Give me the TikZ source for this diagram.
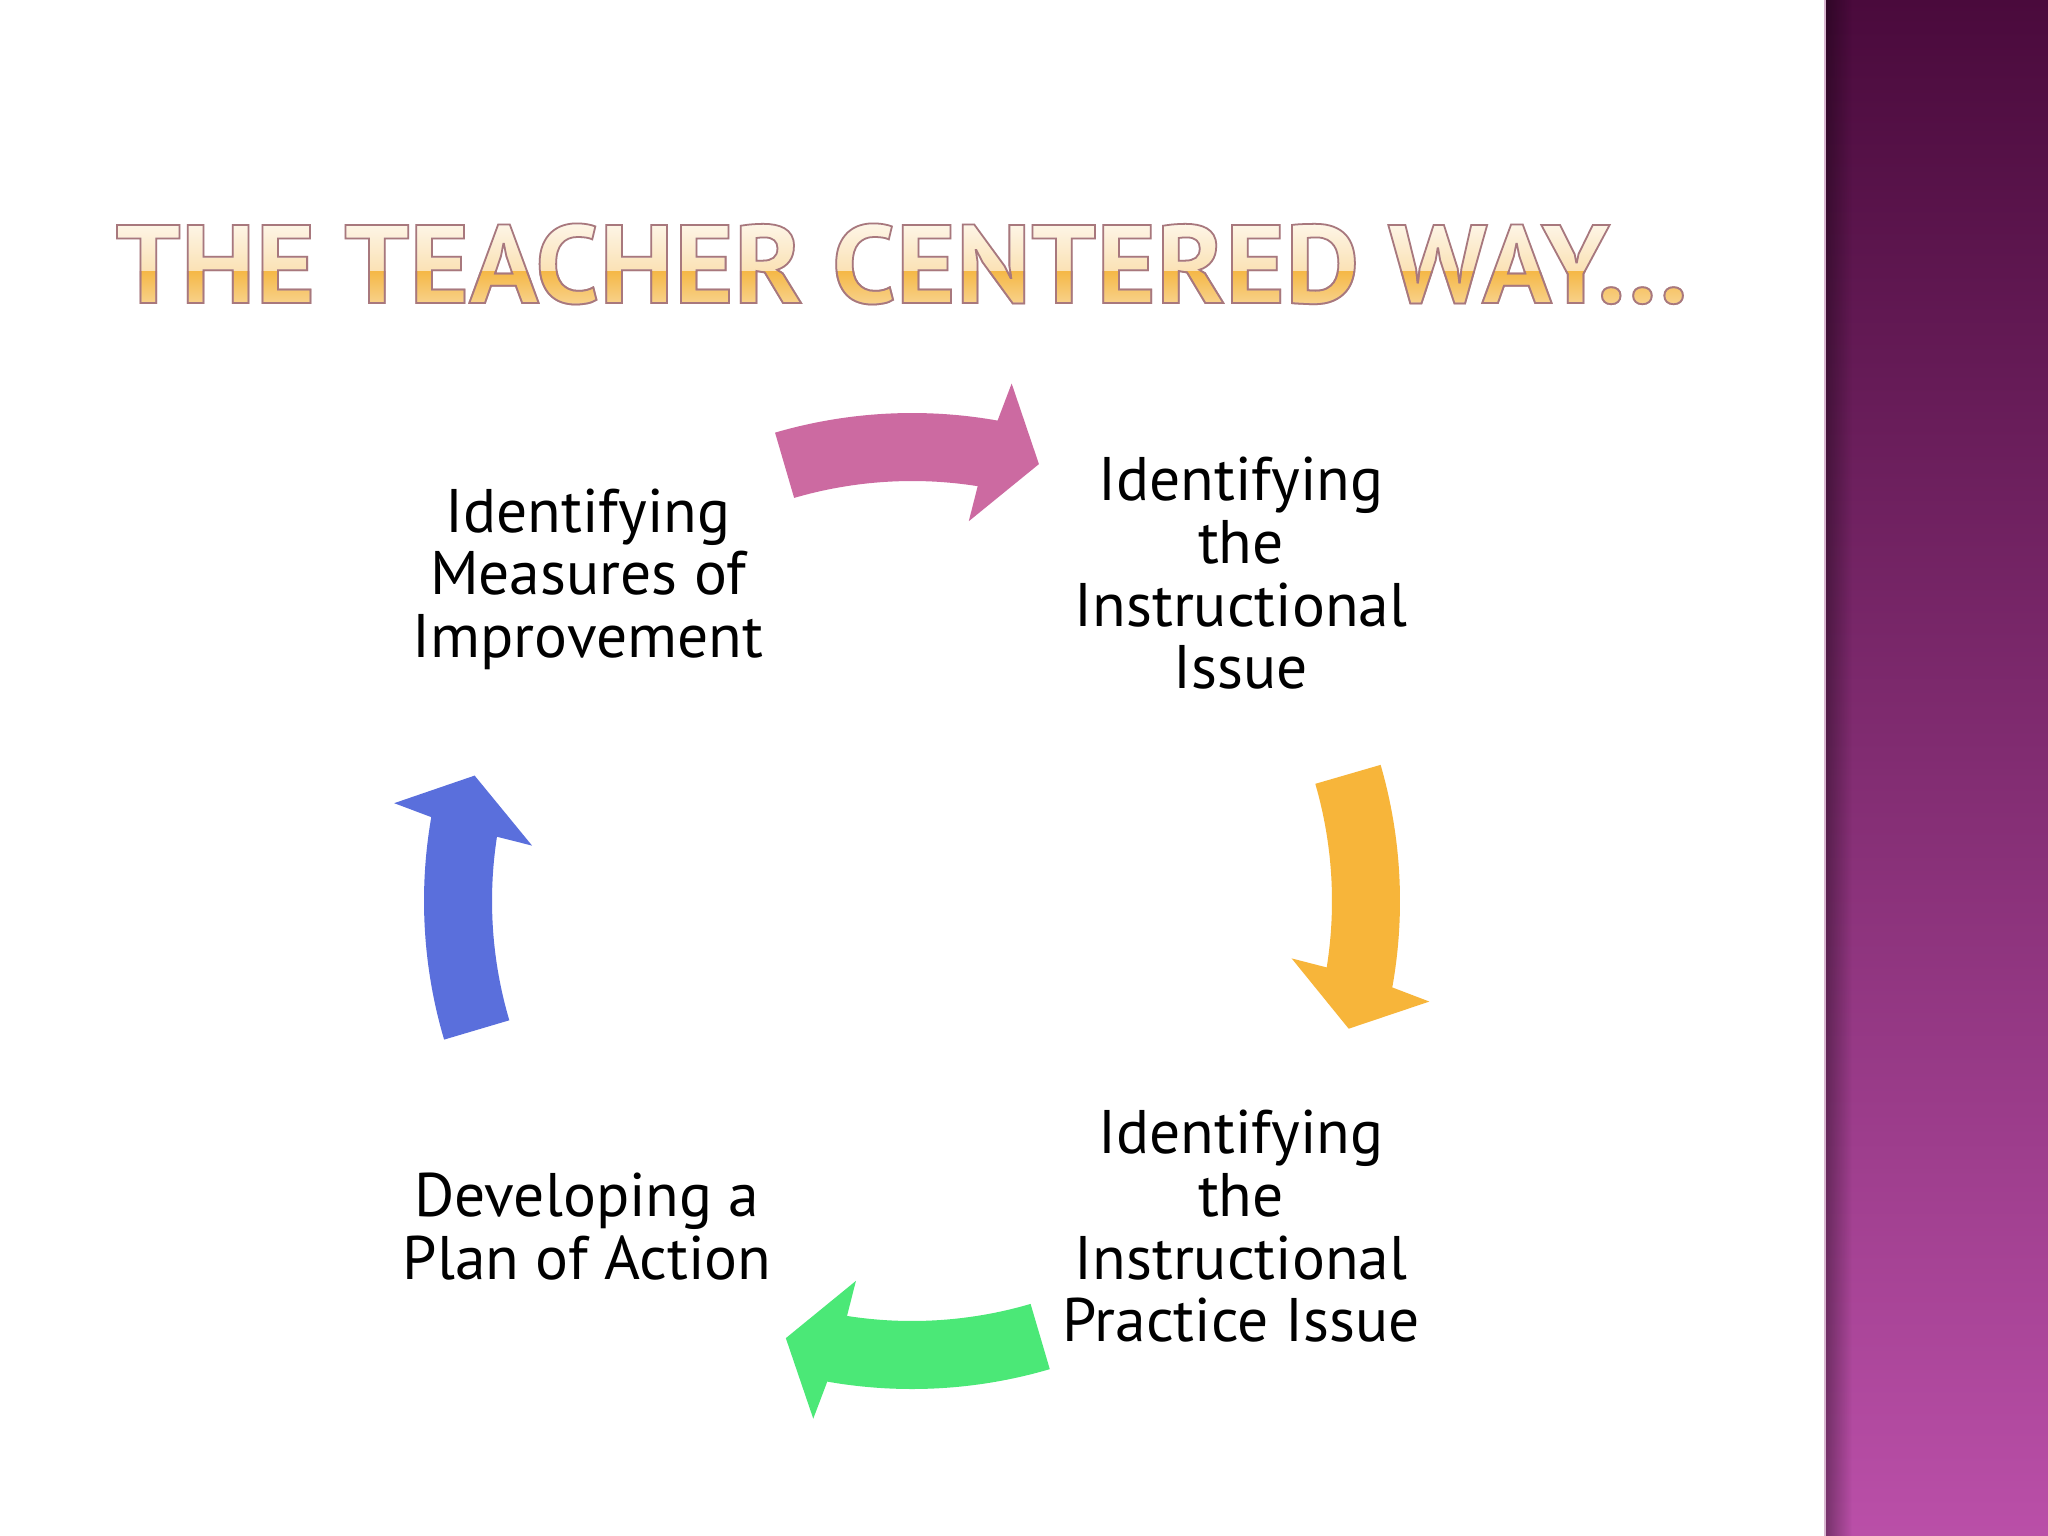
\documentclass[tikz,border=0pt]{standalone}
\usepackage{fontspec}
\setmainfont{PT Sans}
\usetikzlibrary{fadings,calc}

\definecolor{pinkA}{HTML}{CC6AA1}
\definecolor{yellowA}{HTML}{F7B53A}
\definecolor{greenA}{HTML}{4BE877}
\definecolor{blueA}{HTML}{5A6FDC}
\definecolor{tO}{HTML}{F5B847}
\definecolor{barTop}{HTML}{4A0A3C}
\definecolor{barMid}{HTML}{883778}
\definecolor{barBot}{HTML}{BA4FA8}
\definecolor{barEdge}{HTML}{D8B6D0}

% fit the title to its width and cap height with a font-level stretch
\newfontfamily\titlefontraw{PT Sans}
\newlength\ttlwd \newlength\ttlht
\settowidth\ttlwd{\titlefontraw\fontsize{31.7}{36}\selectfont\bfseries THE TEACHER CENTERED WAY…}
\settoheight\ttlht{\titlefontraw\fontsize{31.7}{36}\selectfont\bfseries T}
\pgfmathsetmacro\titlesize{31.7*22.19/\ttlht}
\pgfmathsetmacro\titlestretch{(447.3/\ttlwd)/(22.19/\ttlht)}
\edef\tmpdef{\noexpand\newfontfamily\noexpand\titlefont{PT Sans}[FakeStretch=\titlestretch]}
\tmpdef

\newcommand{\titletext}{{\titlefont\fontsize{\titlesize}{36}\selectfont\bfseries THE TEACHER CENTERED WAY…}}
\newcommand{\fillstrokeon}{\special{pdf:literal direct 2 Tr 0.5 w 0.66 0.47 0.49 RG}}
\newcommand{\strokeonly}{\special{pdf:literal direct 1 Tr 0.5 w 0.66 0.47 0.49 RG}}
\newcommand{\renderoff}{\special{pdf:literal direct 0 Tr}}

\newcommand{\cyclearrow}[2]{%
  \fill[#2] (#1:488) arc[start angle=#1, end angle=#1-26.4, radius=488]
    -- (#1-27.2:527) -- (#1-32.5:455) -- (#1-24.8:384) -- (#1-25.3:420)
    arc[start angle=#1-25.3, end angle=#1, radius=420] -- cycle;}

\tikzset{
  cyclabel/.style={align=center, inner sep=0pt, text=black,
    font=\fontsize{17.5}{17.84}\selectfont,
    execute at begin node=\strut, execute at end node=\strut},
  titlestyle/.style={inner sep=0pt, anchor=base west},
}

\begin{document}
\begin{tikzpicture}[x=0.01cm, y=-0.01cm]
  \useasboundingbox (0,0) rectangle (2048,1536);
  \fill[white] (0,0) rectangle (2048,1536);

  % right decorative bar
  \shade[top color=barTop, middle color=barMid, bottom color=barBot] (1825,0) rectangle (2048,1536);
  \fill[black, opacity=0.35, path fading=east] (1826,0) rectangle (1852,1536);
  \draw[barEdge, line width=0.02cm] (1825,0) -- (1825,1536);

  % title: orange outlined text, lightened by white glazes (background is white)
  \node[titlestyle, text=tO] (title) at (115,303) {\fillstrokeon\titletext\renderoff};
  \fill[white, opacity=0.6] (100,215) rectangle (1720,271);
  \fill[white, opacity=0.7, path fading=south] (100,222) rectangle (1720,271);
  \fill[white, opacity=0.4, path fading=north] (100,271) rectangle (1720,306);
  \node[titlestyle, text=tO] (titleline) at (115,303) {\strokeonly\titletext\renderoff};

  % cycle arrows
  \begin{scope}[shift={(912,901)}, x=0.01cm, y=0.01cm]
    \cyclearrow{106.3}{pinkA}
    \cyclearrow{16.2}{yellowA}
    \cyclearrow{-73.6}{greenA}
    \cyclearrow{-163.5}{blueA}
  \end{scope}

  % labels
  \node[cyclabel] (measures) at (588,582.5) {Identifying\\Measures of\\Improvement};
  \node[cyclabel] (issue) at (1241,582.5) {Identifying\\the\\Instructional\\Issue};
  \node[cyclabel] (practice) at (1241,1235.5) {Identifying\\the\\Instructional\\Practice Issue};
  \node[cyclabel] (plan) at (587,1235.5) {Developing a\\Plan of Action};
\end{tikzpicture}
\end{document}
